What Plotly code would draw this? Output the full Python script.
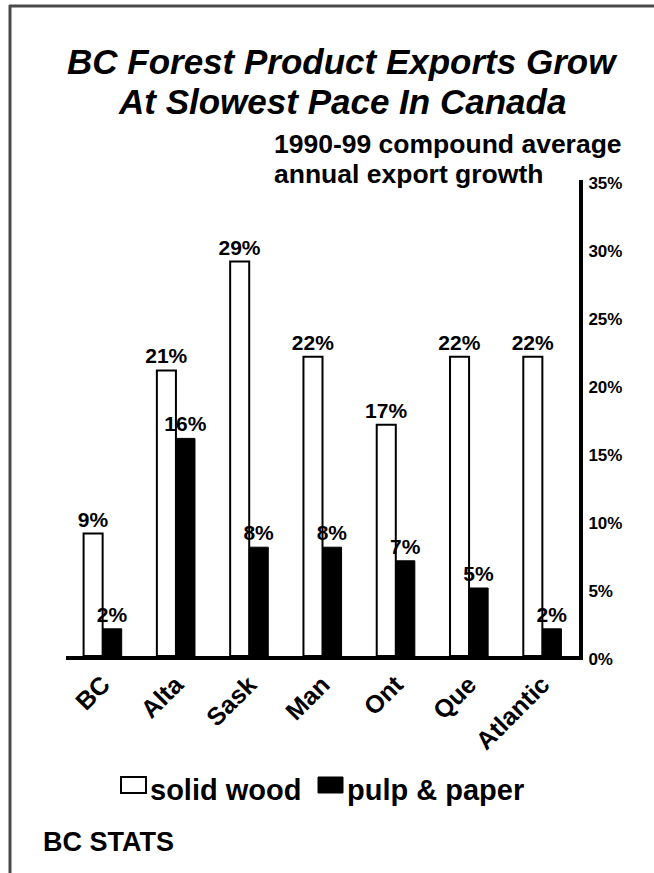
import plotly.graph_objects as go

# ---- data ----
regions = ["BC", "Alta", "Sask", "Man", "Ont", "Que", "Atlantic"]
solid_wood = [9, 21, 29, 22, 17, 22, 22]
pulp_paper = [2, 16, 8, 8, 7, 5, 2]
y_ticks = [0, 5, 10, 15, 20, 25, 30, 35]
y_tick_labels = [f"{v}%" for v in y_ticks]

title_lines = ["BC Forest Product Exports Grow", "At Slowest Pace In Canada"]
subtitle_lines = ["1990-99 compound average", "annual export growth"]
series_names = ["solid wood", "pulp & paper"]
source_text = "BC STATS"

W, H = 654, 873
PL, PR, PT, PB = 66, 579, 180, 656  # plot area in pixels
FONT = "Liberation Sans, Arial, sans-serif"


def px(x):
    return (x - PL) / (PR - PL)


def py(y):
    return (PB - y) / (PB - PT)


fig = go.Figure()
fig.add_trace(go.Bar(
    x=regions, y=solid_wood, name=series_names[0],
    marker=dict(color="white", line=dict(color="black", width=2)),
    text=[f"{v}%" for v in solid_wood], textposition="outside", constraintext="none",
    textfont=dict(family=FONT, size=21, color="black", weight="bold"),
    cliponaxis=False, showlegend=False,
))
fig.add_trace(go.Bar(
    x=regions, y=pulp_paper, name=series_names[1],
    marker=dict(color="black", line=dict(color="black", width=1)),
    text=[f"{v}%" for v in pulp_paper], textposition="outside", constraintext="none",
    textfont=dict(family=FONT, size=21, color="black", weight="bold"),
    cliponaxis=False, showlegend=False,
))

annotations = []
# title
for txt, yc in zip(title_lines, [61, 102]):
    annotations.append(dict(
        text=txt, xref="paper", yref="paper", x=px(342), y=py(yc),
        xanchor="center", yanchor="middle", showarrow=False,
        font=dict(family=FONT, size=35, color="black", weight="bold", style="italic"),
    ))
# subtitle
for txt, yc in zip(subtitle_lines, [144, 174]):
    annotations.append(dict(
        text=txt, xref="paper", yref="paper", x=px(272), y=py(yc),
        xanchor="left", yanchor="middle", showarrow=False,
        font=dict(family=FONT, size=26.5, color="black", weight="bold"),
    ))
# legend texts
annotations.append(dict(
    text=series_names[0], xref="paper", yref="paper", x=px(148), y=py(790),
    xanchor="left", yanchor="middle", showarrow=False,
    font=dict(family=FONT, size=29, color="black", weight="bold"),
))
annotations.append(dict(
    text=series_names[1], xref="paper", yref="paper", x=px(345), y=py(790),
    xanchor="left", yanchor="middle", showarrow=False,
    font=dict(family=FONT, size=29, color="black", weight="bold"),
))
# source
annotations.append(dict(
    text=source_text, xref="paper", yref="paper", x=px(41), y=py(842),
    xanchor="left", yanchor="middle", showarrow=False,
    font=dict(family=FONT, size=27, color="black", weight="bold"),
))

shapes = [
    # frame (top and left)
    dict(type="line", xref="paper", yref="paper", x0=px(9), x1=px(660), y0=py(6), y1=py(6),
         line=dict(color="#4a4a4a", width=3)),
    dict(type="line", xref="paper", yref="paper", x0=px(10), x1=px(10), y0=py(5), y1=py(880),
         line=dict(color="#4a4a4a", width=3)),
    # legend swatches
    dict(type="rect", xref="paper", yref="paper", x0=px(121), x1=px(146), y0=py(777), y1=py(793),
         fillcolor="white", line=dict(color="black", width=2)),
    dict(type="rect", xref="paper", yref="paper", x0=px(318), x1=px(343), y0=py(777), y1=py(793),
         fillcolor="black", line=dict(color="black", width=1)),
]

fig.update_layout(
    width=W, height=H,
    margin=dict(l=PL, r=W - PR, t=PT, b=H - PB, autoexpand=False),
    paper_bgcolor="white", plot_bgcolor="white",
    barmode="group", bargap=0.48, bargroupgap=0,
    showlegend=False,
    annotations=annotations, shapes=shapes,
    font=dict(family=FONT, color="black"),
)
fig.update_xaxes(
    type="category", range=[-0.5, 6.5], showline=True, linecolor="black", linewidth=4,
    ticks="", tickangle=-45, showgrid=False,
    tickfont=dict(family=FONT, size=25, color="black", weight="bold"),
)
fig.update_yaxes(
    side="right", range=[0, 35], tickvals=y_ticks, ticktext=y_tick_labels,
    showline=True, linecolor="black", linewidth=4, showgrid=False, zeroline=False,
    ticks="", ticklabelstandoff=2, ticklabelshift=3,
    tickfont=dict(family=FONT, size=17, color="black", weight="bold"),
)

fig.write_html(
    "out.html",
    config={"displayModeBar": False},
    post_script="document.body.style.margin='0';document.body.style.overflow='hidden';",
)
